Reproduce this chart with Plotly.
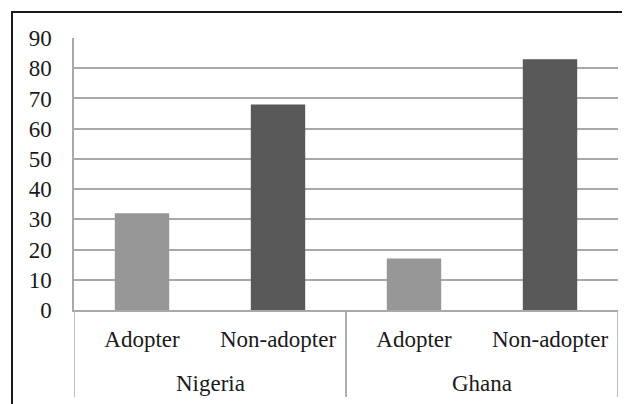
import plotly.graph_objects as go

countries = ["Nigeria", "Nigeria", "Ghana", "Ghana"]
groups = ["Adopter", "Non-adopter", "Adopter", "Non-adopter"]
values = [32, 68, 17, 83]
colors = ["#979797", "#595959", "#979797", "#595959"]

FONT = "Liberation Serif, Times New Roman, serif"
FS = 23
TXT = "#1a1a1a"
GRID = "#a9a9a9"

xs = list(range(len(groups)))

fig = go.Figure(go.Bar(
    x=xs, y=values,
    marker=dict(color=colors, line=dict(width=0)),
    width=0.4,
))

# page offset of 8px (body margin) compensated in margins
L, R, T, B = 66, 20, 30, 102
W, H = 630, 404
pw, ph = W - L - R, H - T - B

fig.update_layout(
    width=W, height=H,
    margin=dict(l=L, r=R, t=T, b=B),
    paper_bgcolor="white", plot_bgcolor="white",
    showlegend=False,
    font=dict(family=FONT, size=FS, color=TXT),
)
fig.update_xaxes(
    range=[-0.5, len(xs) - 0.5],
    tickvals=xs, ticktext=groups,
    showgrid=False, zeroline=False,
    showline=True, linecolor=GRID, linewidth=1.5,
    ticks="", ticklabelstandoff=8,
    tickfont=dict(family=FONT, size=FS, color=TXT),
)
fig.update_yaxes(
    range=[0, 90], dtick=10,
    showgrid=True, gridcolor=GRID, gridwidth=1.5,
    zeroline=False,
    showline=True, linecolor=GRID, linewidth=1.5,
    ticks="", ticklabelstandoff=16,
    tickfont=dict(family=FONT, size=FS, color=TXT),
)

# group labels and dividers derived from the category data
div_bottom = -(397 - 310) / ph
label_y = -(383 - 310) / ph
order = []
for c in countries:
    if c not in order:
        order.append(c)
for c in order:
    idx = [i for i, cc in enumerate(countries) if cc == c]
    lo, hi = min(idx) - 0.5, max(idx) + 0.5
    fig.add_annotation(
        x=(lo + hi) / 2, y=label_y, xref="x", yref="paper",
        text=c, showarrow=False, yanchor="middle",
        font=dict(family=FONT, size=FS, color=TXT),
    )
    for xv in (lo, hi):
        fig.add_shape(
            type="line", xref="x", yref="paper",
            x0=xv, x1=xv, y0=div_bottom, y1=0,
            line=dict(color=GRID, width=1.5),
        )

# outer frame of the chart, extending beyond the visible image
fig.add_shape(
    type="rect", xref="paper", yref="paper",
    x0=(4 - L) / pw, x1=(W + 20 - L) / pw,
    y0=-(H + 20 - (T + ph)) / ph, y1=(T + ph - 4) / ph,
    line=dict(color="#1a1a1a", width=2), fillcolor="rgba(0,0,0,0)",
)
fig.write_html("out.html")
